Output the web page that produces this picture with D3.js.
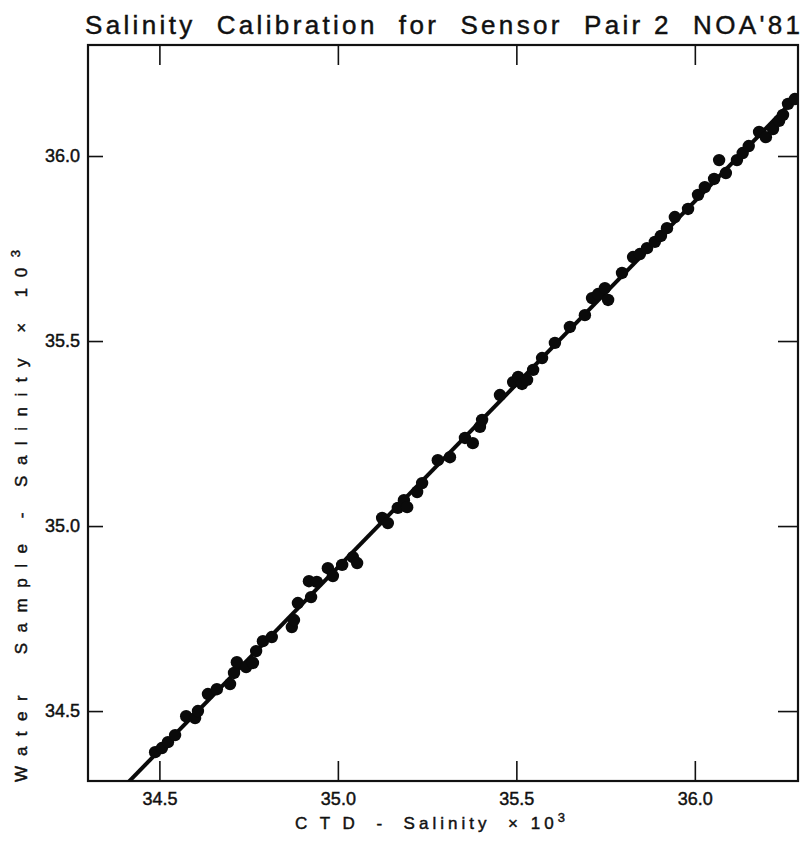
<!DOCTYPE html>
<html>
<head>
<meta charset="utf-8">
<script src="https://cdn.jsdelivr.net/npm/d3@7"></script>
<style>
  body { margin: 0; background: #fff; }
  text { font-family: "Liberation Sans", Arial, sans-serif; fill: #111; stroke: #111; stroke-width: 0.45px; }
  .axis path { display: none; }
  .axis line { stroke: #111; stroke-width: 1.6px; }
  .axis text { font-size: 18px; }
</style>
</head>
<body>
<script>
// CTD salinity (x) vs water sample salinity (y)
const ctdSalinity = [
  34.488, 34.507, 34.524, 34.544, 34.575, 34.600, 34.608, 34.636, 34.661, 34.698,
  34.709, 34.717, 34.743, 34.762, 34.771, 34.790, 34.815, 34.871, 34.877, 34.888,
  34.919, 34.925, 34.941, 34.972, 34.986, 35.012, 35.042, 35.054, 35.124, 35.140,
  35.168, 35.185, 35.194, 35.222, 35.236, 35.280, 35.314, 35.356, 35.378, 35.398,
  35.404, 35.454, 35.491, 35.505, 35.516, 35.530, 35.547, 35.572, 35.608, 35.650,
  35.692, 35.712, 35.729, 35.748, 35.757, 35.796, 35.827, 35.846, 35.866, 35.888,
  35.905, 35.922, 35.944, 35.981, 36.009, 36.028, 36.054, 36.068, 36.087, 36.118,
  36.134, 36.151, 36.180, 36.199, 36.219, 36.236, 36.247, 36.261, 36.280
];
const waterSalinity = [
  34.389, 34.400, 34.416, 34.435, 34.486, 34.481, 34.500, 34.546, 34.559, 34.573,
  34.603, 34.632, 34.619, 34.630, 34.662, 34.689, 34.700, 34.727, 34.746, 34.792,
  34.851, 34.808, 34.849, 34.886, 34.865, 34.895, 34.916, 34.900, 35.022, 35.008,
  35.049, 35.070, 35.051, 35.092, 35.116, 35.178, 35.186, 35.238, 35.224, 35.268,
  35.287, 35.354, 35.389, 35.403, 35.384, 35.395, 35.422, 35.454, 35.495, 35.538,
  35.570, 35.616, 35.627, 35.643, 35.611, 35.684, 35.727, 35.735, 35.751, 35.768,
  35.784, 35.805, 35.835, 35.857, 35.895, 35.916, 35.938, 35.989, 35.954, 35.989,
  36.008, 36.027, 36.065, 36.051, 36.073, 36.095, 36.111, 36.141, 36.154
];
const xTicks = [34.5, 35.0, 35.5, 36.0];
const yTicks = [34.5, 35.0, 35.5, 36.0];
const xDomain = [34.3, 36.289];
const yDomain = [34.311, 36.30];
// regression line  y = a + b x
const fitIntercept = 0.263;
const fitSlope = 0.9893;

const margin = {top: 45, right: 7, bottom: 60, left: 88};
const width = 805 - margin.left - margin.right;
const height = 841 - margin.top - margin.bottom;

const root = d3.select('body').append('svg')
    .attr('width', 805)
    .attr('height', 841);
const svg = root.append('g')
    .attr('transform', `translate(${margin.left},${margin.top})`);

const xScale = d3.scaleLinear().domain(xDomain).range([0, width]);
const yScale = d3.scaleLinear().domain(yDomain).range([height, 0]);
const fmt = d3.format('.1f');

svg.append('clipPath').attr('id', 'plot')
  .append('rect').attr('width', width).attr('height', height);

// ticks point inward on all four sides
svg.append('g')
  .attr('class', 'axis')
  .attr('transform', `translate(0,${height})`)
  .call(d3.axisBottom(xScale).tickValues(xTicks).tickFormat(fmt)
        .tickSize(-20).tickPadding(11));
svg.append('g')
  .attr('class', 'axis')
  .call(d3.axisTop(xScale).tickValues(xTicks).tickFormat('').tickSize(-20));
svg.append('g')
  .attr('class', 'axis')
  .call(d3.axisLeft(yScale).tickValues(yTicks).tickFormat(fmt)
        .tickSize(-15).tickPadding(8));
svg.append('g')
  .attr('class', 'axis')
  .attr('transform', `translate(${width},0)`)
  .call(d3.axisRight(yScale).tickValues(yTicks).tickFormat('').tickSize(-20));

svg.append('rect')
  .attr('width', width)
  .attr('height', height)
  .attr('fill', 'none')
  .attr('stroke', '#111')
  .attr('stroke-width', 2.2);

// fitted line
svg.append('line')
  .attr('clip-path', 'url(#plot)')
  .attr('x1', xScale(xDomain[0]))
  .attr('y1', yScale(fitIntercept + fitSlope * xDomain[0]))
  .attr('x2', xScale(xDomain[1]))
  .attr('y2', yScale(fitIntercept + fitSlope * xDomain[1]))
  .attr('stroke', '#0a0a0a')
  .attr('stroke-width', 4);

// sample points
svg.append('g')
  .attr('clip-path', 'url(#plot)')
  .selectAll('circle')
  .data(ctdSalinity.map((x, i) => [x, waterSalinity[i]]))
  .enter().append('circle')
  .attr('cx', d => xScale(d[0]))
  .attr('cy', d => yScale(d[1]))
  .attr('r', 6.2)
  .attr('fill', '#0a0a0a');

// title and axis labels
root.append('text')
  .attr('x', 85)
  .attr('y', 34)
  .attr('textLength', 715)
  .attr('lengthAdjust', 'spacing')
  .style('font-size', '26px')
  .style('white-space', 'pre')
  .text("Salinity  Calibration  for  Sensor  Pair 2  NOA'81");

const xl = root.append('text')
  .attr('x', 295)
  .attr('y', 829)
  .attr('textLength', 270)
  .attr('lengthAdjust', 'spacing')
  .style('font-size', '17px')
  .style('white-space', 'pre');
xl.append('tspan').text('C T D  -  Salinity  \u00d7 10');
xl.append('tspan').attr('dy', -7).style('font-size', '13px').text('3');

const yl = root.append('text')
  .attr('transform', 'translate(27,782) rotate(-90)')
  .attr('textLength', 532)
  .attr('lengthAdjust', 'spacing')
  .style('font-size', '17px')
  .style('white-space', 'pre');
yl.append('tspan').text('Water  Sample - Salinity \u00d7 10');
yl.append('tspan').attr('dy', -7).style('font-size', '13px').text('3');
</script>
</body>
</html>
